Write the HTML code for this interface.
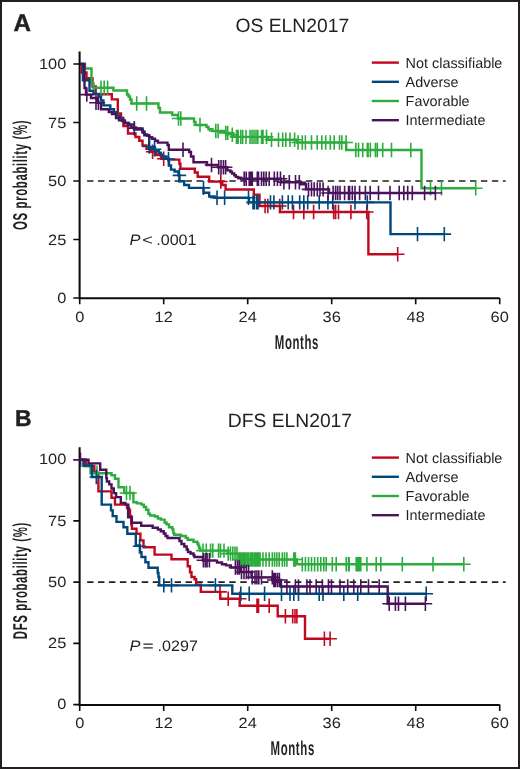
<!DOCTYPE html>
<html><head><meta charset="utf-8"><title>ELN2017 survival</title>
<style>
html,body{margin:0;padding:0;background:#fff;}
body{width:520px;height:769px;overflow:hidden;}
svg{display:block;}
text{font-family:"Liberation Sans",sans-serif;fill:#231f20;text-rendering:geometricPrecision;}
.leg{font-size:14.4px;}
.tk{font-size:14.9px;}
.cond{font-size:20px;font-weight:bold;letter-spacing:1.1px;}
.let{font-size:24.2px;font-weight:bold;stroke:#231f20;stroke-width:0.45px;}
.ttl{font-size:19.3px;}
.pv{font-size:15.2px;}
</style></head>
<body>
<svg style="will-change:transform" width="520" height="769" viewBox="0 0 520 769">
<rect x="1" y="1" width="518" height="767" fill="#fff" stroke="#231f20" stroke-width="2"/>
<path d="M79.6 51.5 V298.3 H499.6" stroke="#0d0b0b" stroke-width="2.05" fill="none"/>
<path d="M73.3 298.0H79.7M73.3 239.5H79.7M73.3 181.0H79.7M73.3 122.5H79.7M73.3 64.0H79.7M79.7 298.0V304.3M163.7 298.0V304.3M247.7 298.0V304.3M331.7 298.0V304.3M415.7 298.0V304.3M499.7 298.0V304.3" stroke="#0d0b0b" stroke-width="1.6" fill="none"/>
<path d="M87.1 181.0H505.7" stroke="#231f20" stroke-width="1.6" stroke-dasharray="6.4 4.54" fill="none"/>
<path d="M80.0 64.0L81.5 64.0L81.5 72.5L86.5 72.5L86.5 78.3L92.5 78.3L92.5 86.5L95.7 86.5L95.7 94.2L111.8 94.2L111.8 99.4L117.8 99.4L117.8 113.4L121.0 113.4L121.0 118.0L123.4 118.0L123.4 126.0L128.0 126.0L128.0 133.5L135.5 133.5L135.5 137.0L139.3 137.0L139.3 140.7L142.5 140.7L142.5 145.5L146.5 145.5L146.5 148.8L151.2 148.8L151.2 151.7L156.0 151.7L156.0 155.0L161.0 155.0L161.0 158.8L168.5 158.8L168.5 159.6L179.4 159.6L179.4 163.8L180.4 163.8L180.4 168.7L194.8 168.7L194.8 172.5L197.7 172.5L197.7 176.8L209.2 176.8L209.2 181.6L220.8 181.6L220.8 182.5L222.3 182.5L222.3 185.0L225.6 185.0L225.6 189.5L253.8 189.5L253.8 194.6L259.5 194.6L259.5 206.0L280.0 206.0L280.0 212.0L368.4 212.0L368.4 254.2L397.7 254.2" stroke="#c0081e" stroke-width="2.4" fill="none" stroke-linejoin="miter" stroke-linecap="butt"/><path d="M145.8 151.7H159.4M152.6 144.5V158.9M156.9 158.8H170.5M163.7 151.6V166.0M214.0 181.5H227.6M220.8 174.3V188.7M258.3 206.0H271.9M265.1 198.8V213.2M261.0 206.0H274.6M267.8 198.8V213.2M272.9 206.0H286.5M279.7 198.8V213.2M286.7 212.0H300.3M293.5 204.8V219.2M297.0 212.0H310.6M303.8 204.8V219.2M306.8 212.0H320.4M313.6 204.8V219.2M326.9 212.0H340.5M333.7 204.8V219.2M328.8 212.0H342.4M335.6 204.8V219.2M331.7 212.0H345.3M338.5 204.8V219.2M344.1 212.0H357.7M350.9 204.8V219.2M360.0 212.0H373.6M366.8 204.8V219.2M390.9 254.2H404.5M397.7 247.0V261.4" stroke="#c0081e" stroke-width="1.6" fill="none"/>
<path d="M80.0 64.0L85.0 64.0L85.0 68.5L91.5 68.5L91.5 83.5L93.5 83.5L93.5 87.7L113.4 87.7L113.4 90.5L127.0 90.5L127.0 94.5L128.5 94.5L128.5 96.5L130.0 96.5L130.0 99.5L131.5 99.5L131.5 103.5L158.5 103.5L158.5 108.0L160.0 108.0L160.0 112.5L172.3 112.5L172.3 115.0L178.0 115.0L178.0 118.5L194.0 118.5L194.0 122.0L195.5 122.0L195.5 125.0L204.6 125.0L206.5 125.0L206.5 127.0L208.5 127.0L208.5 129.3L212.5 129.3L212.5 131.0L225.0 131.0L225.0 132.9L232.0 132.9L232.0 134.8L234.0 134.8L234.0 136.9L268.0 136.9L268.0 139.8L297.0 139.8L297.0 142.5L346.2 142.5L346.2 150.0L421.5 150.0L421.5 188.2L475.7 188.2" stroke="#2dac3e" stroke-width="2.4" fill="none" stroke-linejoin="miter" stroke-linecap="butt"/><path d="M94.2 87.7H107.8M101.0 80.5V94.9M97.4 87.7H111.0M104.2 80.5V94.9M100.8 87.7H114.4M107.6 80.5V94.9M129.9 103.5H143.5M136.7 96.3V110.7M139.7 103.5H153.3M146.5 96.3V110.7M171.7 118.5H185.3M178.5 111.3V125.7M174.0 118.5H187.6M180.8 111.3V125.7M193.2 125.0H206.8M200.0 117.8V132.2M209.0 131.0H222.6M215.8 123.8V138.2M211.3 131.0H224.9M218.1 123.8V138.2M219.0 132.9H232.6M225.8 125.7V140.1M220.9 132.9H234.5M227.7 125.7V140.1M225.5 134.8H239.1M232.3 127.6V142.0M229.7 136.9H243.3M236.5 129.7V144.1M231.3 136.9H244.9M238.1 129.7V144.1M234.0 136.9H247.6M240.8 129.7V144.1M235.9 136.9H249.5M242.7 129.7V144.1M239.2 136.9H252.8M246.0 129.7V144.1M243.2 136.9H256.8M250.0 129.7V144.1M245.2 136.9H258.8M252.0 129.7V144.1M247.2 136.9H260.8M254.0 129.7V144.1M249.2 136.9H262.8M256.0 129.7V144.1M251.0 136.9H264.6M257.8 129.7V144.1M254.7 136.9H268.3M261.5 129.7V144.1M256.2 136.9H269.8M263.0 129.7V144.1M259.7 136.9H273.3M266.5 129.7V144.1M264.7 139.8H278.3M271.5 132.6V147.0M271.7 139.8H285.3M278.5 132.6V147.0M275.9 139.8H289.5M282.7 132.6V147.0M279.0 139.8H292.6M285.8 132.6V147.0M283.2 139.8H296.8M290.0 132.6V147.0M287.8 139.8H301.4M294.6 132.6V147.0M291.3 142.5H304.9M298.1 135.3V149.7M295.5 142.5H309.1M302.3 135.3V149.7M298.6 142.5H312.2M305.4 135.3V149.7M304.7 142.5H318.3M311.5 135.3V149.7M310.4 142.5H324.0M317.2 135.3V149.7M315.0 142.5H328.6M321.8 135.3V149.7M318.9 142.5H332.5M325.7 135.3V149.7M323.5 142.5H337.1M330.3 135.3V149.7M327.4 142.5H341.0M334.2 135.3V149.7M332.7 142.5H346.3M339.5 135.3V149.7M335.0 142.5H348.6M341.8 135.3V149.7M339.3 142.5H352.9M346.1 135.3V149.7M349.0 150.0H362.6M355.8 142.8V157.2M351.7 150.0H365.3M358.5 142.8V157.2M355.9 150.0H369.5M362.7 142.8V157.2M360.5 150.0H374.1M367.3 142.8V157.2M361.3 150.0H374.9M368.1 142.8V157.2M363.6 150.0H377.2M370.4 142.8V157.2M368.6 150.0H382.2M375.4 142.8V157.2M370.5 150.0H384.1M377.3 142.8V157.2M375.9 150.0H389.5M382.7 142.8V157.2M384.7 150.0H398.3M391.5 142.8V157.2M404.0 150.0H417.6M410.8 142.8V157.2M423.7 188.2H437.3M430.5 181.0V195.4M434.7 188.2H448.3M441.5 181.0V195.4M468.9 188.2H482.5M475.7 181.0V195.4" stroke="#2dac3e" stroke-width="1.6" fill="none"/>
<path d="M80.0 64.0L82.9 64.0L82.9 80.3L89.5 80.3L89.5 90.8L93.4 90.8L93.4 94.0L98.8 94.0L98.8 96.5L101.0 96.5L101.0 100.4L103.4 100.4L103.4 105.4L110.3 105.4L110.3 109.2L114.0 109.2L114.0 112.3L116.5 112.3L116.5 115.4L119.0 115.4L119.0 118.0L122.0 118.0L122.0 121.0L125.0 121.0L125.0 123.0L129.0 123.0L129.0 124.5L134.0 124.5L134.0 129.6L142.5 129.6L142.5 131.5L144.4 131.5L144.4 134.4L147.3 134.4L147.3 135.9L149.2 135.9L149.2 148.0L155.0 148.0L155.0 150.5L158.8 150.5L158.8 152.7L160.8 152.7L160.8 154.6L162.7 154.6L162.7 156.5L166.5 156.5L166.5 158.5L168.5 158.5L168.5 160.4L169.0 160.4L169.0 165.5L171.0 165.5L171.0 169.6L174.6 169.6L174.6 171.5L178.5 171.5L178.5 175.4L179.4 175.4L179.4 181.2L184.2 181.2L184.2 185.0L189.0 185.0L189.0 187.9L203.5 187.9L203.5 192.7L209.2 192.7L209.2 196.5L214.6 196.5L214.6 197.7L249.0 197.7L249.0 202.4L390.5 202.4L390.5 234.1L444.3 234.1" stroke="#00477c" stroke-width="2.4" fill="none" stroke-linejoin="miter" stroke-linecap="butt"/><path d="M142.4 146.5H156.0M149.2 139.3V153.7M147.7 149.3H161.3M154.5 142.1V156.5M161.7 159.0H175.3M168.5 151.8V166.2M172.6 175.4H186.2M179.4 168.2V182.6M196.7 187.9H210.3M203.5 180.7V195.1M210.2 197.7H223.8M217.0 190.5V204.9M217.8 197.7H231.4M224.6 190.5V204.9M241.7 197.7H255.3M248.5 190.5V204.9M246.2 202.4H259.8M253.0 195.2V209.6M247.4 202.4H261.0M254.2 195.2V209.6M249.7 202.4H263.3M256.5 195.2V209.6M251.2 202.4H264.8M258.0 195.2V209.6M263.7 202.4H277.3M270.5 195.2V209.6M267.1 202.4H280.7M273.9 195.2V209.6M275.6 202.4H289.2M282.4 195.2V209.6M281.4 202.4H295.0M288.2 195.2V209.6M285.6 202.4H299.2M292.4 195.2V209.6M292.9 202.4H306.5M299.7 195.2V209.6M297.0 202.4H310.6M303.8 195.2V209.6M300.9 202.4H314.5M307.7 195.2V209.6M312.4 202.4H326.0M319.2 195.2V209.6M321.1 202.4H334.7M327.9 195.2V209.6M325.9 202.4H339.5M332.7 195.2V209.6M348.2 202.4H361.8M355.0 195.2V209.6M360.5 202.4H374.1M367.3 195.2V209.6M410.7 234.1H424.3M417.5 226.9V241.3M437.5 234.1H451.1M444.3 226.9V241.3" stroke="#00477c" stroke-width="1.6" fill="none"/>
<path d="M80.0 64.0L84.5 64.0L84.5 88.0L86.0 88.0L86.0 94.6L91.0 94.6L91.0 98.0L97.0 98.0L97.0 102.7L101.0 102.7L101.0 109.2L108.8 109.2L108.8 112.0L112.0 112.0L112.0 114.0L116.0 114.0L116.0 118.0L119.0 118.0L119.0 120.4L124.6 120.4L124.6 123.0L128.0 123.0L128.0 125.0L131.0 125.0L131.0 127.5L136.0 127.5L136.0 128.5L142.5 128.5L142.5 132.5L144.4 132.5L144.4 135.2L149.2 135.2L149.2 137.3L152.1 137.3L152.1 138.8L155.0 138.8L155.0 140.7L157.9 140.7L157.9 142.6L167.5 142.6L167.5 145.0L168.8 145.0L168.8 149.8L189.2 149.8L189.2 152.0L191.0 152.0L191.0 156.5L193.5 156.5L193.5 162.3L207.0 162.3L207.0 165.0L218.0 165.0L218.0 167.3L227.3 167.3L227.3 170.4L230.4 170.4L230.4 171.8L232.0 171.8L232.0 173.5L234.2 173.5L234.2 175.2L235.8 175.2L235.8 176.9L238.1 176.9L238.1 177.8L241.2 177.8L241.2 178.8L281.2 178.8L281.2 182.2L301.0 182.2L301.0 184.2L306.0 184.2L306.0 189.4L329.0 189.4L329.0 193.0L435.4 193.0" stroke="#4a125a" stroke-width="2.4" fill="none" stroke-linejoin="miter" stroke-linecap="butt"/><path d="M80.0 94.6H93.6M86.8 87.4V101.8M89.2 102.7H102.8M96.0 95.5V109.9M91.6 102.7H105.2M98.4 95.5V109.9M127.5 128.2H141.1M134.3 121.0V135.4M176.2 149.8H189.8M183.0 142.6V157.0M204.7 165.0H218.3M211.5 157.8V172.2M211.9 167.3H225.5M218.7 160.1V174.5M214.2 167.3H227.8M221.0 160.1V174.5M216.6 167.3H230.2M223.4 160.1V174.5M218.8 167.3H232.4M225.6 160.1V174.5M237.4 178.8H251.0M244.2 171.6V186.0M239.4 178.8H253.0M246.2 171.6V186.0M242.4 178.8H256.0M249.2 171.6V186.0M244.0 178.8H257.6M250.8 171.6V186.0M245.5 178.8H259.1M252.3 171.6V186.0M250.5 178.8H264.1M257.3 171.6V186.0M251.7 178.8H265.3M258.5 171.6V186.0M254.7 178.8H268.3M261.5 171.6V186.0M257.0 178.8H270.6M263.8 171.6V186.0M259.4 178.8H273.0M266.2 171.6V186.0M262.4 178.8H276.0M269.2 171.6V186.0M267.5 178.8H281.1M274.3 171.6V186.0M270.6 178.8H284.2M277.4 171.6V186.0M273.7 178.8H287.3M280.5 171.6V186.0M277.1 182.2H290.7M283.9 175.0V189.4M282.5 182.2H296.1M289.3 175.0V189.4M288.7 182.2H302.3M295.5 175.0V189.4M292.5 182.2H306.1M299.3 175.0V189.4M301.7 189.4H315.3M308.5 182.2V196.6M304.7 189.4H318.3M311.5 182.2V196.6M307.4 189.4H321.0M314.2 182.2V196.6M310.5 189.4H324.1M317.3 182.2V196.6M313.2 189.4H326.8M320.0 182.2V196.6M316.3 189.4H329.9M323.1 182.2V196.6M321.3 193.0H334.9M328.1 185.8V200.2M326.3 193.0H339.9M333.1 185.8V200.2M328.8 193.0H342.4M335.6 185.8V200.2M330.9 193.0H344.5M337.7 185.8V200.2M333.2 193.0H346.8M340.0 185.8V200.2M337.8 193.0H351.4M344.6 185.8V200.2M341.7 193.0H355.3M348.5 185.8V200.2M342.8 193.0H356.4M349.6 185.8V200.2M345.5 193.0H359.1M352.3 185.8V200.2M348.2 193.0H361.8M355.0 185.8V200.2M352.8 193.0H366.4M359.6 185.8V200.2M358.6 193.0H372.2M365.4 185.8V200.2M363.4 193.0H377.0M370.2 185.8V200.2M371.7 193.0H385.3M378.5 185.8V200.2M383.2 193.0H396.8M390.0 185.8V200.2M392.4 193.0H406.0M399.2 185.8V200.2M397.0 193.0H410.6M403.8 185.8V200.2M400.9 193.0H414.5M407.7 185.8V200.2M405.5 193.0H419.1M412.3 185.8V200.2M417.8 193.0H431.4M424.6 185.8V200.2M428.6 193.0H442.2M435.4 185.8V200.2" stroke="#4a125a" stroke-width="1.6" fill="none"/>
<path d="M371.8 62.6H398.9" stroke="#c0081e" stroke-width="2.4"/>
<text x="405.6" y="67.6" class="leg">Not classifiable</text>
<path d="M371.8 81.8H398.9" stroke="#00477c" stroke-width="2.4"/>
<text x="405.6" y="86.6" class="leg">Adverse</text>
<path d="M371.8 101.0H398.9" stroke="#2dac3e" stroke-width="2.4"/>
<text x="405.6" y="105.7" class="leg">Favorable</text>
<path d="M371.8 120.2H398.9" stroke="#4a125a" stroke-width="2.4"/>
<text x="405.6" y="124.8" class="leg">Intermediate</text>
<text class="tk" text-anchor="end" transform="translate(66.3 303.4) scale(1.1 1)">0</text>
<text class="tk" text-anchor="end" transform="translate(66.3 244.9) scale(1.1 1)">25</text>
<text class="tk" text-anchor="end" transform="translate(66.3 186.4) scale(1.1 1)">50</text>
<text class="tk" text-anchor="end" transform="translate(66.3 127.9) scale(1.1 1)">75</text>
<text class="tk" text-anchor="end" transform="translate(66.3 69.4) scale(1.1 1)">100</text>
<text class="tk" text-anchor="middle" transform="translate(79.7 322.3) scale(1.1 1)">0</text>
<text class="tk" text-anchor="middle" transform="translate(163.7 322.3) scale(1.1 1)">12</text>
<text class="tk" text-anchor="middle" transform="translate(247.7 322.3) scale(1.1 1)">24</text>
<text class="tk" text-anchor="middle" transform="translate(331.7 322.3) scale(1.1 1)">36</text>
<text class="tk" text-anchor="middle" transform="translate(415.7 322.3) scale(1.1 1)">48</text>
<text class="tk" text-anchor="middle" transform="translate(499.7 322.3) scale(1.1 1)">60</text>
<text class="cond" x="0" y="0" text-anchor="middle" transform="translate(296.9 349.2) scale(0.57 1)">Months</text>
<text class="cond" x="0" y="0" text-anchor="middle" transform="translate(27.4 174.9) rotate(-90) scale(0.5700 1)">OS probability (%)</text>
<text x="13.5" y="30.8" class="let">A</text>
<text x="292.3" y="31.9" class="ttl" text-anchor="middle">OS ELN2017</text>
<text x="129.6" y="244.7" class="pv" font-style="italic" transform="translate(129.6 244.7) scale(1.08 1) translate(-129.6 -244.7)">P</text>
<text class="pv" transform="translate(142.2 244.7) scale(1.2 1)">&lt;</text>
<text class="pv" transform="translate(156.2 244.7) scale(1.06 1)">.0001</text>
<path d="M79.6 447.2 V704.9 H499.6" stroke="#0d0b0b" stroke-width="2.05" fill="none"/>
<path d="M73.3 704.6H79.7M73.3 643.4H79.7M73.3 582.1H79.7M73.3 520.9H79.7M73.3 459.7H79.7M79.7 704.6V710.9M163.7 704.6V710.9M247.7 704.6V710.9M331.7 704.6V710.9M415.7 704.6V710.9M499.7 704.6V710.9" stroke="#0d0b0b" stroke-width="1.6" fill="none"/>
<path d="M87.1 582.1H505.7" stroke="#231f20" stroke-width="1.6" stroke-dasharray="6.4 4.54" fill="none"/>
<path d="M80.0 459.7L86.0 459.7L86.0 466.0L94.3 466.0L94.3 472.7L98.4 472.7L98.4 491.4L111.5 491.4L111.5 497.7L115.0 497.7L115.0 504.6L127.0 504.6L127.0 508.0L129.0 508.0L129.0 510.0L130.0 510.0L130.0 516.0L131.2 516.0L131.2 524.2L131.9 524.2L131.9 528.8L136.5 528.8L136.5 533.8L140.4 533.8L140.4 540.4L143.5 540.4L143.5 547.3L154.6 547.3L154.6 554.6L171.5 554.6L171.5 559.2L187.7 559.2L187.7 566.2L190.0 566.2L190.0 572.3L191.5 572.3L191.5 577.0L194.6 577.0L194.6 579.2L196.2 579.2L196.2 584.6L200.8 584.6L200.8 591.9L220.3 591.9L220.3 598.8L239.7 598.8L239.7 605.8L277.7 605.8L277.7 616.3L305.0 616.3L305.0 638.8L330.1 638.8" stroke="#c0081e" stroke-width="2.4" fill="none" stroke-linejoin="miter" stroke-linecap="butt"/><path d="M213.2 591.9H226.8M220.0 584.7V599.1M221.4 598.8H235.0M228.2 591.6V606.0M232.9 598.8H246.5M239.7 591.6V606.0M250.2 605.8H263.8M257.0 598.6V613.0M251.7 605.8H265.3M258.5 598.6V613.0M262.4 605.8H276.0M269.2 598.6V613.0M278.6 616.3H292.2M285.4 609.1V623.5M285.9 616.3H299.5M292.7 609.1V623.5M288.2 616.3H301.8M295.0 609.1V623.5M290.1 616.3H303.7M296.9 609.1V623.5M317.6 638.8H331.2M324.4 631.6V646.0M323.3 638.8H336.9M330.1 631.6V646.0" stroke="#c0081e" stroke-width="1.6" fill="none"/>
<path d="M80.0 459.7L83.0 459.7L83.0 466.0L90.5 466.0L90.5 473.3L111.5 473.3L111.5 475.2L115.0 475.2L115.0 478.7L118.5 478.7L118.5 487.3L124.2 487.3L124.2 493.0L133.4 493.0L133.4 502.3L136.9 502.3L136.9 503.4L141.5 503.4L141.5 504.6L143.8 504.6L143.8 507.0L146.1 507.0L146.1 509.8L148.4 509.8L148.4 513.8L150.0 513.8L150.0 515.5L155.0 515.5L155.0 516.5L157.9 516.5L157.9 518.5L160.8 518.5L160.8 519.6L164.6 519.6L164.6 522.5L166.5 522.5L166.5 524.4L169.0 524.4L169.0 527.3L172.3 527.3L172.3 529.2L173.3 529.2L173.3 533.1L174.2 533.1L174.2 534.8L181.0 534.8L181.0 536.0L185.8 536.0L185.8 537.9L187.7 537.9L187.7 539.8L193.5 539.8L193.5 541.7L197.3 541.7L197.3 543.5L198.3 543.5L198.3 545.6L199.2 545.6L199.2 548.0L200.2 548.0L200.2 550.6L227.4 550.6L227.4 553.6L239.0 553.6L239.0 559.5L297.0 559.5L297.0 564.3L463.8 564.3" stroke="#2dac3e" stroke-width="2.4" fill="none" stroke-linejoin="miter" stroke-linecap="butt"/><path d="M90.2 472.7H103.8M97.0 465.5V479.9M119.7 493.0H133.3M126.5 485.8V500.2M123.2 493.0H136.8M130.0 485.8V500.2M196.2 550.6H209.8M203.0 543.4V557.8M199.5 550.6H213.1M206.3 543.4V557.8M203.8 550.6H217.4M210.6 543.4V557.8M206.0 550.6H219.6M212.8 543.4V557.8M211.7 550.6H225.3M218.5 543.4V557.8M213.7 550.6H227.3M220.5 543.4V557.8M217.2 550.6H230.8M224.0 543.4V557.8M221.4 553.6H235.0M228.2 546.4V560.8M223.7 553.6H237.3M230.5 546.4V560.8M226.0 553.6H239.6M232.8 546.4V560.8M228.2 553.6H241.8M235.0 546.4V560.8M230.2 553.6H243.8M237.0 546.4V560.8M233.2 559.5H246.8M240.0 552.3V566.7M234.7 559.5H248.3M241.5 552.3V566.7M236.2 559.5H249.8M243.0 552.3V566.7M237.8 559.5H251.4M244.6 552.3V566.7M239.2 559.5H252.8M246.0 552.3V566.7M240.9 559.5H254.5M247.7 552.3V566.7M242.2 559.5H255.8M249.0 552.3V566.7M244.0 559.5H257.6M250.8 552.3V566.7M245.5 559.5H259.1M252.3 552.3V566.7M247.2 559.5H260.8M254.0 552.3V566.7M248.6 559.5H262.2M255.4 552.3V566.7M250.2 559.5H263.8M257.0 552.3V566.7M251.7 559.5H265.3M258.5 552.3V566.7M253.2 559.5H266.8M260.0 552.3V566.7M256.2 559.5H269.8M263.0 552.3V566.7M259.2 559.5H272.8M266.0 552.3V566.7M262.4 559.5H276.0M269.2 552.3V566.7M265.5 559.5H279.1M272.3 552.3V566.7M267.8 559.5H281.4M274.6 552.3V566.7M270.1 559.5H283.7M276.9 552.3V566.7M272.4 559.5H286.0M279.2 552.3V566.7M275.5 559.5H289.1M282.3 552.3V566.7M277.8 559.5H291.4M284.6 552.3V566.7M280.1 559.5H293.7M286.9 552.3V566.7M287.0 559.5H300.6M293.8 552.3V566.7M288.6 559.5H302.2M295.4 552.3V566.7M295.5 564.3H309.1M302.3 557.1V571.5M298.6 564.3H312.2M305.4 557.1V571.5M301.7 564.3H315.3M308.5 557.1V571.5M304.7 564.3H318.3M311.5 557.1V571.5M307.8 564.3H321.4M314.6 557.1V571.5M310.9 564.3H324.5M317.7 557.1V571.5M314.0 564.3H327.6M320.8 557.1V571.5M317.0 564.3H330.6M323.8 557.1V571.5M319.4 564.3H333.0M326.2 557.1V571.5M325.5 564.3H339.1M332.3 557.1V571.5M329.4 564.3H343.0M336.2 557.1V571.5M339.4 564.3H353.0M346.2 557.1V571.5M341.7 564.3H355.3M348.5 557.1V571.5M342.4 564.3H356.0M349.2 557.1V571.5M349.4 564.3H363.0M356.2 557.1V571.5M350.9 564.3H364.5M357.7 557.1V571.5M352.4 564.3H366.0M359.2 557.1V571.5M354.0 564.3H367.6M360.8 557.1V571.5M360.1 564.3H373.7M366.9 557.1V571.5M369.4 564.3H383.0M376.2 557.1V571.5M374.0 564.3H387.6M380.8 557.1V571.5M395.5 564.3H409.1M402.3 557.1V571.5M426.2 564.3H439.8M433.0 557.1V571.5M457.0 564.3H470.6M463.8 557.1V571.5" stroke="#2dac3e" stroke-width="1.6" fill="none"/>
<path d="M80.0 459.7L83.8 459.7L83.8 465.5L92.0 465.5L92.0 477.0L101.7 477.0L101.7 504.6L111.0 504.6L111.0 510.4L112.7 510.4L112.7 516.1L116.5 516.1L116.5 521.9L123.5 521.9L123.5 527.3L127.3 527.3L127.3 533.8L135.8 533.8L135.8 545.4L140.0 545.4L140.0 552.3L141.5 552.3L141.5 557.0L145.4 557.0L145.4 562.3L148.5 562.3L148.5 567.7L157.7 567.7L157.7 573.0L158.5 573.0L158.5 577.0L159.2 577.0L159.2 585.4L232.3 585.4L232.3 593.8L426.2 593.8" stroke="#00477c" stroke-width="2.4" fill="none" stroke-linejoin="miter" stroke-linecap="butt"/><path d="M89.5 477.0H103.1M96.3 469.8V484.2M132.8 546.2H146.4M139.6 539.0V553.4M157.0 585.4H170.6M163.8 578.2V592.6M164.7 585.4H178.3M171.5 578.2V592.6M208.6 585.4H222.2M215.4 578.2V592.6M234.0 593.8H247.6M240.8 586.6V601.0M242.4 593.8H256.0M249.2 586.6V601.0M257.8 593.8H271.4M264.6 586.6V601.0M274.7 593.8H288.3M281.5 586.6V601.0M283.2 593.8H296.8M290.0 586.6V601.0M287.0 593.8H300.6M293.8 586.6V601.0M291.7 593.8H305.3M298.5 586.6V601.0M312.4 593.8H326.0M319.2 586.6V601.0M316.2 593.8H329.8M323.0 586.6V601.0M337.0 593.8H350.6M343.8 586.6V601.0M350.9 593.8H364.5M357.7 586.6V601.0M419.4 593.8H433.0M426.2 586.6V601.0" stroke="#00477c" stroke-width="1.6" fill="none"/>
<path d="M80.0 459.7L88.5 459.7L88.5 463.4L100.2 463.4L100.2 469.7L106.3 469.7L106.3 478.1L106.9 478.1L106.9 481.5L109.2 481.5L109.2 484.4L111.5 484.4L111.5 488.5L113.8 488.5L113.8 493.1L116.1 493.1L116.1 497.1L120.8 497.1L120.8 502.9L125.4 502.9L125.4 504.6L128.3 504.6L128.3 508.1L128.1 508.1L128.1 517.3L131.9 517.3L131.9 522.7L141.2 522.7L141.2 525.8L152.7 525.8L152.7 527.8L157.9 527.8L157.9 529.5L160.8 529.5L160.8 531.3L163.7 531.3L163.7 533.5L165.5 533.5L165.5 536.0L167.5 536.0L167.5 538.0L179.5 538.0L179.5 541.0L181.5 541.0L181.5 544.0L184.3 544.0L184.3 546.5L186.7 546.5L186.7 549.5L188.0 549.5L188.0 552.0L190.5 552.0L190.5 553.5L193.5 553.5L193.5 555.3L194.4 555.3L194.4 557.0L203.0 557.0L203.0 560.6L217.0 560.6L217.0 562.5L222.0 562.5L222.0 564.3L226.0 564.3L226.0 565.4L230.8 565.4L230.8 567.5L240.0 567.5L240.0 572.0L251.5 572.0L251.5 577.4L272.3 577.4L272.3 580.0L281.0 580.0L281.0 586.5L387.7 586.5L387.7 603.8L425.4 603.8" stroke="#4a125a" stroke-width="2.4" fill="none" stroke-linejoin="miter" stroke-linecap="butt"/><path d="M73.7 459.7H87.3M80.5 452.5V466.9M196.6 560.3H210.2M203.4 553.1V567.5M198.6 560.3H212.2M205.4 553.1V567.5M200.3 560.3H213.9M207.1 553.1V567.5M202.6 560.3H216.2M209.4 553.1V567.5M228.6 567.5H242.2M235.4 560.3V574.7M230.7 567.5H244.3M237.5 560.3V574.7M232.5 567.5H246.1M239.3 560.3V574.7M234.7 572.0H248.3M241.5 564.8V579.2M237.2 572.0H250.8M244.0 564.8V579.2M239.6 572.0H253.2M246.4 564.8V579.2M241.8 572.0H255.4M248.6 564.8V579.2M245.5 577.4H259.1M252.3 570.2V584.6M248.2 577.4H261.8M255.0 570.2V584.6M250.1 577.4H263.7M256.9 570.2V584.6M252.0 577.4H265.6M258.8 570.2V584.6M254.7 577.4H268.3M261.5 570.2V584.6M265.5 577.4H279.1M272.3 570.2V584.6M267.0 580.0H280.6M273.8 572.8V587.2M268.6 580.0H282.2M275.4 572.8V587.2M270.6 580.0H284.2M277.4 572.8V587.2M272.6 580.0H286.2M279.4 572.8V587.2M280.1 586.5H293.7M286.9 579.3V593.7M288.6 586.5H302.2M295.4 579.3V593.7M291.7 586.5H305.3M298.5 579.3V593.7M300.1 586.5H313.7M306.9 579.3V593.7M303.2 586.5H316.8M310.0 579.3V593.7M309.4 586.5H323.0M316.2 579.3V593.7M315.5 586.5H329.1M322.3 579.3V593.7M321.7 586.5H335.3M328.5 579.3V593.7M324.7 586.5H338.3M331.5 579.3V593.7M333.2 586.5H346.8M340.0 579.3V593.7M340.9 586.5H354.5M347.7 579.3V593.7M347.0 586.5H360.6M353.8 579.3V593.7M354.0 586.5H367.6M360.8 579.3V593.7M361.7 586.5H375.3M368.5 579.3V593.7M372.4 586.5H386.0M379.2 579.3V593.7M382.4 603.8H396.0M389.2 596.6V611.0M388.6 603.8H402.2M395.4 596.6V611.0M391.7 603.8H405.3M398.5 596.6V611.0M398.6 603.8H412.2M405.4 596.6V611.0M418.6 603.8H432.2M425.4 596.6V611.0" stroke="#4a125a" stroke-width="1.6" fill="none"/>
<path d="M371.8 457.6H398.9" stroke="#c0081e" stroke-width="2.4"/>
<text x="405.6" y="462.6" class="leg">Not classifiable</text>
<path d="M371.8 476.8H398.9" stroke="#00477c" stroke-width="2.4"/>
<text x="405.6" y="481.7" class="leg">Adverse</text>
<path d="M371.8 496.0H398.9" stroke="#2dac3e" stroke-width="2.4"/>
<text x="405.6" y="500.7" class="leg">Favorable</text>
<path d="M371.8 515.2H398.9" stroke="#4a125a" stroke-width="2.4"/>
<text x="405.6" y="519.8" class="leg">Intermediate</text>
<text class="tk" text-anchor="end" transform="translate(66.3 709.3) scale(1.1 1)">0</text>
<text class="tk" text-anchor="end" transform="translate(66.3 648.1) scale(1.1 1)">25</text>
<text class="tk" text-anchor="end" transform="translate(66.3 586.9) scale(1.1 1)">50</text>
<text class="tk" text-anchor="end" transform="translate(66.3 525.6) scale(1.1 1)">75</text>
<text class="tk" text-anchor="end" transform="translate(66.3 464.4) scale(1.1 1)">100</text>
<text class="tk" text-anchor="middle" transform="translate(79.7 728.1) scale(1.1 1)">0</text>
<text class="tk" text-anchor="middle" transform="translate(163.7 728.1) scale(1.1 1)">12</text>
<text class="tk" text-anchor="middle" transform="translate(247.7 728.1) scale(1.1 1)">24</text>
<text class="tk" text-anchor="middle" transform="translate(331.7 728.1) scale(1.1 1)">36</text>
<text class="tk" text-anchor="middle" transform="translate(415.7 728.1) scale(1.1 1)">48</text>
<text class="tk" text-anchor="middle" transform="translate(499.7 728.1) scale(1.1 1)">60</text>
<text class="cond" x="0" y="0" text-anchor="middle" transform="translate(292.7 755.1) scale(0.57 1)">Months</text>
<text class="cond" x="0" y="0" text-anchor="middle" transform="translate(27.4 580.7) rotate(-90) scale(0.5700 1)">DFS probability (%)</text>
<text x="14.9" y="425.9" class="let" style="font-size:22.9px">B</text>
<text x="289.9" y="426.9" class="ttl" text-anchor="middle">DFS ELN2017</text>
<text x="129.6" y="650.5" class="pv" font-style="italic" transform="translate(129.6 650.5) scale(1.08 1) translate(-129.6 -650.5)">P</text>
<text class="pv" transform="translate(142.4 650.5) scale(1.26 1)">=</text>
<text class="pv" transform="translate(157.6 650.5) scale(1.06 1)">.0297</text>
</svg>
</body></html>
